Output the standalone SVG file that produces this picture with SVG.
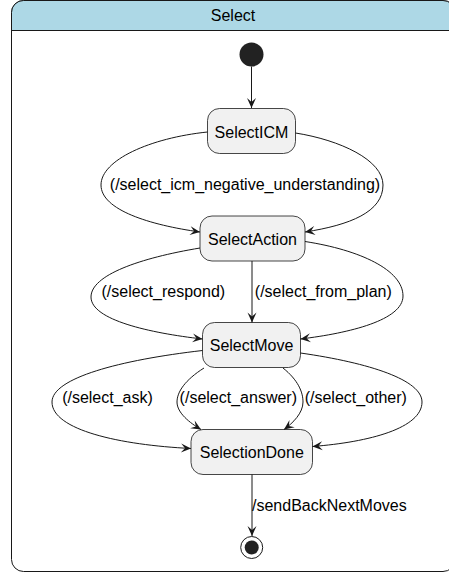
<svg xmlns="http://www.w3.org/2000/svg" width="449" height="572" viewBox="0 0 449 572">
<style>
text{font-family:"Liberation Sans",Arial,sans-serif;fill:#000;}
.st{font-size:16px;text-anchor:middle;}
.lbl{font-size:16px;}
.box{fill:#F1F1F1;stroke:#181818;stroke-width:0.8;}
.edge{fill:none;stroke:#181818;stroke-width:1;marker-end:url(#arr);}
</style>
<defs>
<marker id="arr" markerUnits="userSpaceOnUse" viewBox="-12 -6 13 12" refX="0" refY="0" markerWidth="13" markerHeight="12" orient="auto">
<path d="M0,0 L-10,-4.5 L-6,0 L-10,4.5 Z" fill="#181818"/>
</marker>
</defs>
<g id="Select">
<rect x="11.5" y="0.5" width="443.5" height="571" rx="12" ry="12" fill="#FFFFFF" stroke="#181818" stroke-width="1"/>
<path d="M11.5,30.5 L11.5,12.5 A12,12 0 0 1 23.5,0.5 L443,0.5 A12,12 0 0 1 455,12.5 L455,30.5 Z" fill="#ADD8E6" stroke="#181818" stroke-width="1"/>
<line x1="11.5" y1="30.5" x2="455" y2="30.5" stroke="#181818" stroke-width="1"/>
<text class="st" x="233" y="21">Select</text>
</g>
<g id="start">
<circle cx="251.5" cy="54.5" r="12" fill="#222222"/>
</g>
<g id="SelectICM">
<rect class="box" x="207.5" y="108.5" width="88" height="45" rx="12" ry="12"/>
<text class="st" x="251.5" y="137.5">SelectICM</text>
</g>
<g id="SelectAction">
<rect class="box" x="200" y="216" width="105" height="45" rx="12" ry="12"/>
<text class="st" x="252.5" y="244.5">SelectAction</text>
</g>
<g id="SelectMove">
<rect class="box" x="202.5" y="322.5" width="98" height="45" rx="12" ry="12"/>
<text class="st" x="251.5" y="351">SelectMove</text>
</g>
<g id="SelectionDone">
<rect class="box" x="191" y="429.5" width="121.5" height="45" rx="12" ry="12"/>
<text class="st" x="251.75" y="458">SelectionDone</text>
</g>
<g id="end">
<circle cx="251.7" cy="547.5" r="11" fill="#FFFFFF" stroke="#181818" stroke-width="1"/>
<circle cx="251.7" cy="547.5" r="7" fill="#222222"/>
</g>
<g id="connectors">
<path class="edge" d="M251.5,66.5 L251.5,108"/>
<path class="edge" d="M207.5,132 C150,138 101,160 101,185 C101,210 150,225 200,232"/>
<path class="edge" d="M295.5,133 C340,140 383,160 383,185 C383,212 350,225 305,232"/>
<path class="edge" d="M200,248 C140,258 91,275 91,297 C91,320 150,333 202.5,339"/>
<path class="edge" d="M252,261 L252,322.5"/>
<path class="edge" d="M305,241.5 C360,250 403,270 403,296 C403,320 350,333 300.5,339"/>
<path class="edge" d="M202.5,350.5 C120,360 52,378 52,402 C52,430 120,445 191,448.5"/>
<path class="edge" d="M204,368 C185,380 177,392 177,402 C177,413 190,423 201,429.5"/>
<path class="edge" d="M283,368 C298,380 303,392 303,402 C303,413 293,423 284,429.5"/>
<path class="edge" d="M300.5,353 C370,363 422,380 422,402 C422,428 370,442 312.5,446.5"/>
<path class="edge" d="M252,474.5 L252,536"/>
<text class="lbl" x="245" y="190" text-anchor="middle">(/select_icm_negative_understanding)</text>
<text class="lbl" x="163.3" y="297" text-anchor="middle">(/select_respond)</text>
<text class="lbl" x="323.3" y="297" text-anchor="middle">(/select_from_plan)</text>
<text class="lbl" x="107.5" y="403" text-anchor="middle">(/select_ask)</text>
<text class="lbl" x="238.3" y="403" text-anchor="middle">(/select_answer)</text>
<text class="lbl" x="355.8" y="403" text-anchor="middle">(/select_other)</text>
<text class="lbl" x="252" y="511">/sendBackNextMoves</text>
</g>
</svg>
